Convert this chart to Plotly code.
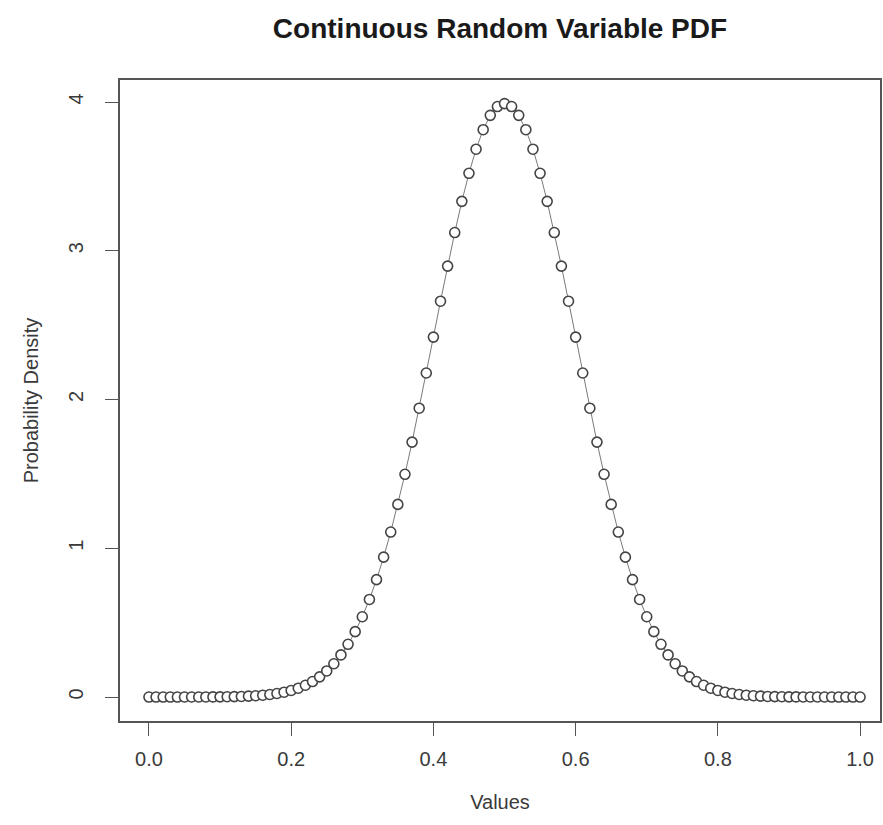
import plotly.graph_objects as go

# Data (density at x = 0.00, 0.01, ..., 1.00)
x_values = [i / 100 for i in range(101)]
density = [
    0.0000, 0.0000, 0.0000, 0.0001, 0.0001, 0.0002, 0.0002, 0.0004, 0.0006, 0.0009,
    0.0013, 0.0020, 0.0029, 0.0042, 0.0061, 0.0087, 0.0123, 0.0172, 0.0238, 0.0327,
    0.0443, 0.0595, 0.0792, 0.1042, 0.1358, 0.1753, 0.2239, 0.2833, 0.3547, 0.4398,
    0.5399, 0.6562, 0.7895, 0.9405, 1.1092, 1.2952, 1.4973, 1.7137, 1.9419, 2.1785,
    2.4197, 2.6609, 2.8969, 3.1225, 3.3322, 3.5207, 3.6827, 3.8139, 3.9104, 3.9695,
    3.9894,
    3.9695, 3.9104, 3.8139, 3.6827, 3.5207, 3.3322, 3.1225, 2.8969, 2.6609, 2.4197,
    2.1785, 1.9419, 1.7137, 1.4973, 1.2952, 1.1092, 0.9405, 0.7895, 0.6562, 0.5399,
    0.4398, 0.3547, 0.2833, 0.2239, 0.1753, 0.1358, 0.1042, 0.0792, 0.0595, 0.0443,
    0.0327, 0.0238, 0.0172, 0.0123, 0.0087, 0.0061, 0.0042, 0.0029, 0.0020, 0.0013,
    0.0009, 0.0006, 0.0004, 0.0002, 0.0002, 0.0001, 0.0001, 0.0000, 0.0000, 0.0000,
    0.0000,
]
x_ticks = [0.0, 0.2, 0.4, 0.6, 0.8, 1.0]
x_tick_labels = ["0.0", "0.2", "0.4", "0.6", "0.8", "1.0"]
y_ticks = [0, 1, 2, 3, 4]
y_tick_labels = ["0", "1", "2", "3", "4"]

FONT = "Liberation Sans, Arial, Helvetica, sans-serif"
INK = "#3a3a3a"
AX = "#555555"

fig = go.Figure()
fig.add_trace(go.Scatter(
    x=x_values, y=density, mode="lines",
    line=dict(color="#7a7a7a", width=1.0),
    hoverinfo="skip", showlegend=False,
))
fig.add_trace(go.Scatter(
    x=x_values, y=density, mode="markers",
    marker=dict(symbol="circle", size=10, color="white",
                line=dict(color="#444444", width=1.6)),
    showlegend=False,
))

fig.update_layout(
    width=883, height=825,
    margin=dict(l=120, r=1, t=80, b=104),
    paper_bgcolor="white", plot_bgcolor="white",
    font=dict(family=FONT, color=INK, size=20),
    title=dict(text="<b>Continuous Random Variable PDF</b>",
               x=0.5, xref="paper", xanchor="center",
               y=1 - 28 / 825, yanchor="middle",
               font=dict(size=28, color="#1a1a1a")),
)
fig.update_xaxes(
    range=[-0.0407, 1.0280], tickmode="array", tickvals=x_ticks, ticktext=x_tick_labels,
    showgrid=False, zeroline=False,
    showline=True, linecolor=AX, linewidth=1.5, mirror=True,
    ticks="outside", ticklen=13, tickwidth=1.3, tickcolor=AX,
    ticklabelstandoff=6,
    tickfont=dict(size=20, color=INK),
    title=dict(text="Values", font=dict(size=20, color=INK), standoff=26),
)
fig.update_yaxes(
    range=[-0.161, 4.148], tickmode="array", tickvals=y_ticks, ticktext=y_tick_labels,
    showgrid=False, zeroline=False,
    showline=True, linecolor=AX, linewidth=1.5, mirror=True,
    ticks="outside", ticklen=13, tickwidth=1.3, tickcolor=AX,
    tickangle=-90, ticklabelstandoff=14,
    tickfont=dict(size=20, color=INK),
    title=dict(text="Probability Density", font=dict(size=20, color=INK), standoff=21),
)

fig.write_html("out.html", config={"displayModeBar": False},
               post_script="document.body.style.margin='0';")
